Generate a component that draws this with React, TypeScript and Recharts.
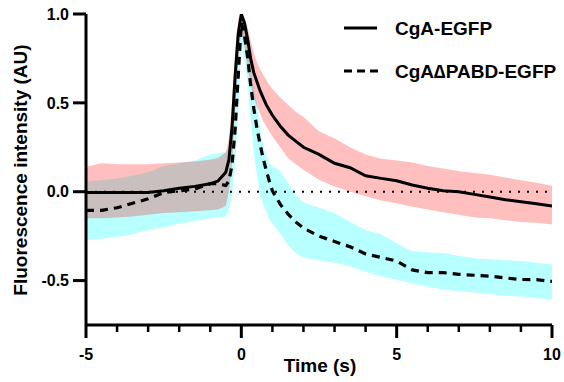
import React from 'react';
import { ComposedChart, Area, Line, XAxis, YAxis, ReferenceLine } from 'recharts';

const times = [-5, -4.5, -4, -3.5, -3, -2.5, -2, -1.5, -1, -0.75, -0.5, -0.4, -0.3, -0.2, -0.1, 0, 0.1, 0.2, 0.3, 0.4, 0.5, 0.6, 0.7, 0.8, 0.9, 1, 1.25, 1.5, 1.75, 2, 2.5, 3, 3.5, 4, 4.5, 5, 5.5, 6, 6.5, 7, 7.5, 8, 8.5, 9, 9.5, 10];

const cgaMean = [-0.005, -0.005, -0.005, -0.005, -0.005, 0.005, 0.02, 0.03, 0.045, 0.06, 0.11, 0.18, 0.36, 0.65, 0.89, 1.0, 0.95, 0.86, 0.75, 0.67, 0.62, 0.57, 0.53, 0.49, 0.46, 0.43, 0.37, 0.32, 0.285, 0.25, 0.21, 0.16, 0.135, 0.09, 0.075, 0.062, 0.038, 0.02, 0.005, 0.0, -0.015, -0.03, -0.045, -0.056, -0.068, -0.08];
const cgaLow = [-0.15, -0.15, -0.145, -0.14, -0.13, -0.12, -0.115, -0.11, -0.105, -0.1, -0.08, 0.0, 0.15, 0.45, 0.75, 0.9, 0.82, 0.7, 0.6, 0.53, 0.48, 0.44, 0.4, 0.37, 0.34, 0.31, 0.25, 0.19, 0.155, 0.124, 0.067, 0.03, 0.0, -0.025, -0.05, -0.065, -0.085, -0.1, -0.115, -0.13, -0.145, -0.15, -0.16, -0.17, -0.175, -0.185];
const cgaHigh = [0.14, 0.16, 0.155, 0.155, 0.155, 0.16, 0.165, 0.17, 0.18, 0.19, 0.22, 0.3, 0.5, 0.78, 0.97, 1.0, 0.98, 0.93, 0.85, 0.78, 0.73, 0.69, 0.66, 0.63, 0.6, 0.58, 0.53, 0.49, 0.45, 0.42, 0.34, 0.3, 0.25, 0.21, 0.185, 0.175, 0.165, 0.145, 0.13, 0.115, 0.105, 0.095, 0.08, 0.065, 0.05, 0.034];

const pabdMean = [-0.105, -0.105, -0.09, -0.065, -0.04, -0.005, 0.005, 0.015, 0.045, 0.045, 0.035, 0.06, 0.15, 0.35, 0.65, 0.95, 0.88, 0.76, 0.6, 0.47, 0.36, 0.27, 0.19, 0.12, 0.06, 0.005, -0.07, -0.125, -0.17, -0.205, -0.25, -0.28, -0.31, -0.35, -0.37, -0.39, -0.44, -0.455, -0.455, -0.465, -0.47, -0.475, -0.485, -0.494, -0.495, -0.505];
const pabdLow = [-0.27, -0.265, -0.255, -0.24, -0.215, -0.2, -0.18, -0.165, -0.15, -0.145, -0.14, -0.1, -0.02, 0.15, 0.45, 0.85, 0.75, 0.62, 0.41, 0.22, 0.1, -0.02, -0.07, -0.11, -0.157, -0.18, -0.235, -0.3, -0.345, -0.37, -0.385, -0.4, -0.42, -0.45, -0.475, -0.495, -0.515, -0.535, -0.55, -0.56, -0.567, -0.575, -0.585, -0.59, -0.6, -0.607];
const pabdHigh = [0.056, 0.065, 0.075, 0.09, 0.11, 0.145, 0.16, 0.175, 0.21, 0.215, 0.225, 0.24, 0.33, 0.55, 0.82, 1.0, 0.97, 0.85, 0.72, 0.6, 0.49, 0.36, 0.27, 0.2, 0.16, 0.145, 0.115, 0.05, -0.02, -0.06, -0.09, -0.12, -0.17, -0.215, -0.24, -0.29, -0.335, -0.34, -0.345, -0.36, -0.375, -0.38, -0.385, -0.39, -0.4, -0.41];

const xTicks = [-5, -4, -3, -2, -1, 0, 1, 2, 3, 4, 5, 6, 7, 8, 9, 10];
const yTicks = [-0.5, 0, 0.5, 1.0];
const seriesNames = ['CgA-EGFP', 'CgA\u2206PABD-EGFP'];

const data = times.map((t, i) => ({
  t,
  cga: cgaMean[i],
  cgaBand: [cgaLow[i], cgaHigh[i]],
  pabd: pabdMean[i],
  pabdBand: [pabdLow[i], pabdHigh[i]],
}));

const FONT = '"Liberation Sans", Arial, Helvetica, sans-serif';

const XTick = (props: any) => {
  const { x, y, payload } = props;
  const v = payload.value;
  const major = v % 5 === 0;
  return (
    <g>
      <line x1={x} x2={x} y1={y} y2={y + (major ? 13 : 7)} stroke="#000" strokeWidth={major ? 3 : 2.5} />
      {major && (
        <text x={x} y={y + 35} textAnchor="middle" fontFamily={FONT} fontWeight="bold" fontSize={16} fill="#000">
          {v}
        </text>
      )}
    </g>
  );
};

export default function App() {
  return (
    <div style={{ position: 'absolute', left: 0, top: 0, background: '#fff' }}>
      <ComposedChart width={564} height={382} data={data} margin={{ top: 14, right: 12, left: 0, bottom: 0 }}>
        <XAxis
          dataKey="t"
          type="number"
          domain={[-5, 10]}
          ticks={xTicks}
          interval={0}
          allowDataOverflow
          height={57}
          tickSize={0}
          tickMargin={0}
          tickLine={false}
          tick={<XTick />}
          axisLine={{ stroke: '#000', strokeWidth: 3 }}
        />
        <YAxis
          type="number"
          domain={[-0.75, 1]}
          ticks={yTicks}
          interval={0}
          allowDataOverflow
          width={86}
          tickSize={13}
          tickMargin={4}
          tickFormatter={(v: number) => v.toFixed(1)}
          tick={{ fontFamily: FONT, fontWeight: 'bold', fontSize: 16, fill: '#000' }}
          tickLine={{ stroke: '#000', strokeWidth: 3 }}
          axisLine={{ stroke: '#000', strokeWidth: 3 }}
        />
        <ReferenceLine y={0} stroke="#000" strokeWidth={2} strokeDasharray="2 7" />
        <Area dataKey="pabdBand" type="linear" stroke="none" fill="#00FFFF" fillOpacity={0.28} isAnimationActive={false} />
        <Line dataKey="pabd" type="linear" stroke="#000" strokeWidth={3.2} strokeDasharray="8 6" dot={false} isAnimationActive={false} />
        <Area dataKey="cgaBand" type="linear" stroke="none" fill="#FF0000" fillOpacity={0.25} isAnimationActive={false} />
        <Line dataKey="cga" type="linear" stroke="#000" strokeWidth={3} dot={false} isAnimationActive={false} />
        <text x={320} y={372} textAnchor="middle" fontFamily={FONT} fontWeight="bold" fontSize={19} fill="#000">
          Time (s)
        </text>
        <text
          x={27}
          y={170}
          transform="rotate(-90 27 170)"
          textAnchor="middle"
          fontFamily={FONT}
          fontWeight="bold"
          fontSize={19}
          fill="#000"
        >
          Fluorescence intensity (AU)
        </text>
        <g>
          <line x1={344} x2={377} y1={28} y2={28} stroke="#000" strokeWidth={3} />
          <text x={395} y={35} fontFamily={FONT} fontWeight="bold" fontSize={19} fill="#000">
            {seriesNames[0]}
          </text>
          <line x1={344} x2={378} y1={71} y2={71} stroke="#000" strokeWidth={3} strokeDasharray="8 5" />
          <text x={395} y={78} fontFamily={FONT} fontWeight="bold" fontSize={19} fill="#000">
            {seriesNames[1]}
          </text>
        </g>
      </ComposedChart>
    </div>
  );
}
